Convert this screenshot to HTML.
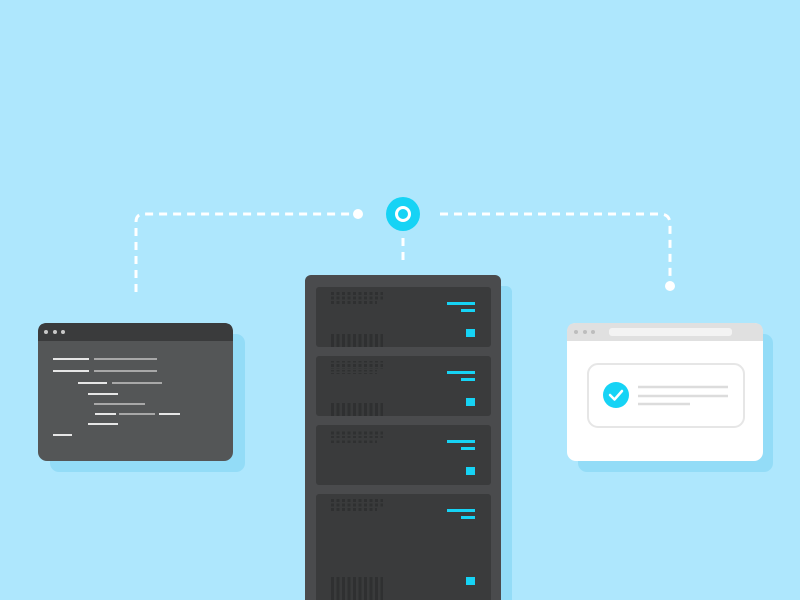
<!DOCTYPE html>
<html><head><style>html,body{margin:0;padding:0;background:#aee7fd;}svg{display:block}</style></head>
<body>
<svg width="800" height="600" viewBox="0 0 800 600" xmlns="http://www.w3.org/2000/svg">
<defs>
<pattern id="dots" x="331" y="292" width="5.5" height="4.5" patternUnits="userSpaceOnUse"><rect width="3" height="3" fill="#2f3031"/></pattern>
<pattern id="vent" x="331" y="0" width="5.5" height="10" patternUnits="userSpaceOnUse"><rect width="3" height="10" fill="#2f3031"/></pattern>
</defs>
<rect width="800" height="600" fill="#aee7fd"/>
<!-- connectors -->
<g fill="none" stroke="#fff" stroke-width="3" stroke-dasharray="8 6" stroke-linecap="butt">
<path d="M136 292 V222 Q136 214 144 214 H352"/>
<path d="M440 214 H660 Q670 214 670 224 V286"/>
<path d="M403 238 V264"/>
</g>
<circle cx="358" cy="214" r="5" fill="#fff"/>
<circle cx="670" cy="286" r="5" fill="#fff"/>
<circle cx="403" cy="214" r="17" fill="#16d3f5"/>
<circle cx="403" cy="214" r="6.5" fill="none" stroke="#fff" stroke-width="3"/>
<!-- left window -->
<rect x="50" y="334" width="195" height="138" rx="9" fill="#93dcf7"/>
<rect x="38" y="323" width="195" height="138" rx="9" fill="#545657"/>
<path d="M38 341 V332 Q38 323 47 323 H224 Q233 323 233 332 V341 Z" fill="#3a3b3c"/>
<g fill="#c8c8c8"><circle cx="46" cy="332" r="2"/><circle cx="55" cy="332" r="2"/><circle cx="63" cy="332" r="2"/></g>
<g stroke-width="2">
<g stroke="#e6e6e6">
<path d="M53 359H89M53 371H89M78 383H107M88 394H118M95 414H116M159 414H180M88 424H118M53 435H72"/>
</g>
<g stroke="#a8a8a8">
<path d="M94 359H157M94 371H157M112 383H162M94 404H145M119 414H155"/>
</g>
</g>
<!-- server -->
<rect x="312" y="286" width="200" height="330" rx="6" fill="#93dcf7"/>
<rect x="305" y="275" width="196" height="340" rx="6" fill="#4a4b4d"/>
<g>
<rect x="316" y="287" width="175" height="60" rx="3" fill="#3a3b3c"/>
<rect x="316" y="356" width="175" height="60" rx="3" fill="#3a3b3c"/>
<rect x="316" y="425" width="175" height="60" rx="3" fill="#3a3b3c"/>
<rect x="316" y="494" width="175" height="120" rx="3" fill="#3a3b3c"/>
</g>
<g fill="url(#dots)">
<rect x="331" y="292" width="52" height="8"/><rect x="331" y="301" width="46" height="4"/>
<rect x="331" y="361" width="52" height="8"/><rect x="331" y="370" width="46" height="4"/>
<rect x="331" y="430" width="52" height="8"/><rect x="331" y="439" width="46" height="4"/>
<rect x="331" y="499" width="52" height="8"/><rect x="331" y="508" width="46" height="4"/>
</g>
<g fill="url(#vent)">
<rect x="331" y="334" width="52" height="13"/>
<rect x="331" y="403" width="52" height="13"/>
<rect x="331" y="577" width="52" height="23"/>
</g>
<g fill="#16d3f5">
<rect x="447" y="302" width="28" height="3"/><rect x="461" y="309" width="14" height="3"/><rect x="466" y="329" width="9" height="8"/>
<rect x="447" y="371" width="28" height="3"/><rect x="461" y="378" width="14" height="3"/><rect x="466" y="398" width="9" height="8"/>
<rect x="447" y="440" width="28" height="3"/><rect x="461" y="447" width="14" height="3"/><rect x="466" y="467" width="9" height="8"/>
<rect x="447" y="509" width="28" height="3"/><rect x="461" y="516" width="14" height="3"/><rect x="466" y="577" width="9" height="8"/>
</g>
<!-- right window -->
<rect x="578" y="334" width="195" height="138" rx="9" fill="#93dcf7"/>
<rect x="567" y="323" width="196" height="138" rx="9" fill="#ffffff"/>
<path d="M567 341 V332 Q567 323 576 323 H754 Q763 323 763 332 V341 Z" fill="#e0e0e0"/>
<g fill="#bdbdbd"><circle cx="576" cy="332" r="2"/><circle cx="585" cy="332" r="2"/><circle cx="593" cy="332" r="2"/></g>
<rect x="609" y="328" width="123" height="8" rx="3" fill="#f3f3f3"/>
<rect x="588" y="364" width="156" height="63" rx="10" fill="#fff" stroke="#e6e6e6" stroke-width="2"/>
<circle cx="616" cy="395" r="13" fill="#16d3f5"/>
<path d="M610 395 L614.5 399.5 L622 391" fill="none" stroke="#fff" stroke-width="2.5" stroke-linecap="round" stroke-linejoin="round"/>
<g stroke="#dcdcdc" stroke-width="2.5">
<path d="M638 387H728M638 396H728M638 404H690"/>
</g>
</svg>
</body></html>
